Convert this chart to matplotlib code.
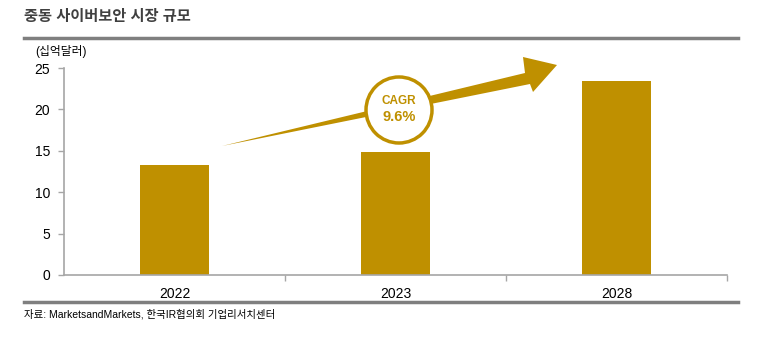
import matplotlib.pyplot as plt
from matplotlib.patches import Polygon, Circle
from matplotlib.lines import Line2D

plt.rcParams['font.family'] = ['Liberation Sans', 'Noto Sans CJK KR']

# 데이터
years = ['2022', '2023', '2028']
values = [13.3, 14.8, 23.4]
cagr_text = '9.6%'

gold = '#BF9000'
axis_gray = '#A6A6A6'
text_col = '#000000'

fig = plt.figure(figsize=(7.59, 3.51), dpi=100)
W, H = 759, 351
ax = fig.add_axes([64 / W, (H - 275) / H, (727 - 64) / W, (275 - 68) / H])

x = range(len(years))
ax.bar(x, values, width=0.31, color=gold, zorder=2)

ax.set_xlim(-0.5, len(years) - 0.5)
ax.set_ylim(0, 25)
ax.set_yticks([0, 5, 10, 15, 20, 25])
ax.set_xticks(list(x))
ax.set_xticklabels(years)
ax.set_xticks([i + 0.5 for i in x], minor=True)
ax.tick_params(axis='x', which='major', length=0, pad=9, labelsize=10, labelcolor=text_col)
ax.tick_params(axis='x', which='minor', length=4, color=axis_gray, width=1)
ax.tick_params(axis='y', length=4, color=axis_gray, width=1, pad=6, labelsize=10, labelcolor=text_col)

for s in ['top', 'right']:
    ax.spines[s].set_visible(False)
for s in ['left', 'bottom']:
    ax.spines[s].set_color(axis_gray)
    ax.spines[s].set_linewidth(1.2)


# 픽셀(위에서부터) -> 인치 좌표
def px(xp, yp):
    return (xp / 100, (H - yp) / 100)


# CAGR 화살표
pts = [px(222, 146), px(525, 73), px(523, 57), px(557, 65), px(533, 92), px(530, 84)]
arrow = Polygon(pts, closed=True, transform=fig.dpi_scale_trans,
                facecolor=gold, edgecolor='none', zorder=3)
fig.patches.append(arrow)

# 원
cx, cy, r = 399, 110, 33
circ = Circle(px(cx, cy), r / 100, transform=fig.dpi_scale_trans,
              facecolor='white', edgecolor=gold, linewidth=2.5, zorder=4)
fig.patches.append(circ)
fig.text(cx / W, (H - cy + 9) / H, 'CAGR', ha='center', va='center',
         color=gold, fontsize=8.5, fontweight='bold', zorder=5)
fig.text(cx / W, (H - cy - 7) / H, cagr_text, ha='center', va='center',
         color=gold, fontsize=10.5, fontweight='bold', zorder=5)

# 제목, 단위, 출처
fig.text(24 / W, (H - 17) / H, '중동 사이버보안 시장 규모', ha='left', va='center',
         fontsize=11, fontweight='bold', color='#404040')
fig.add_artist(Line2D([24 / W, 738 / W], [(H - 38) / H] * 2, color='#7F7F7F', linewidth=2.5))
fig.text(35 / W, (H - 51) / H, '(십억달러)', ha='left', va='center', fontsize=8.5, color=text_col)
fig.add_artist(Line2D([24 / W, 738 / W], [(H - 302) / H] * 2, color='#7F7F7F', linewidth=2.5))
fig.text(24 / W, (H - 314) / H, '자료: MarketsandMarkets, 한국IR협의회 기업리서치센터', ha='left', va='center',
         fontsize=7.5, color=text_col)

fig.savefig('out.png', dpi=100)
